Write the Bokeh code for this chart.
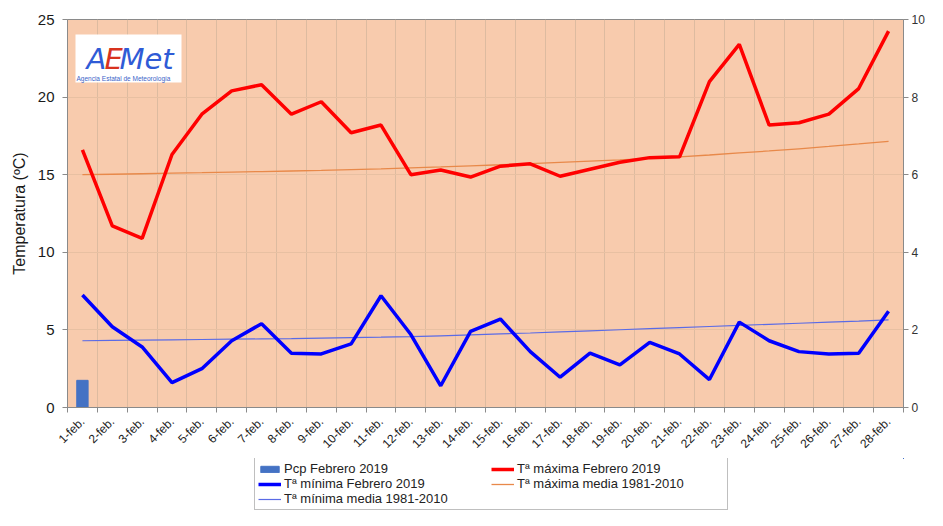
import math
from bokeh.plotting import figure
from bokeh.layouts import column
from bokeh.models import (Range1d, LinearAxis, FixedTicker, Legend, LegendItem,
                          Label, BoxAnnotation)
from bokeh.embed import file_html
from bokeh.resources import INLINE

# ---------------- data ----------------
days = list(range(1, 29))
day_labels = [f"{d}-feb." for d in days]

pcp = [0.7] + [0.0] * 27

tmax = [16.6, 11.7, 10.9, 16.3, 18.9, 20.4, 20.8, 18.9, 19.7, 17.7,
        18.2, 15.0, 15.3, 14.85, 15.55, 15.7, 14.9, 15.35, 15.8, 16.1,
        16.15, 21.0, 23.4, 18.2, 18.35, 18.9, 20.55, 24.25]

tmin = [7.25, 5.2, 3.9, 1.6, 2.5, 4.3, 5.4, 3.5, 3.45, 4.1,
        7.2, 4.7, 1.4, 4.9, 5.7, 3.6, 1.95, 3.5, 2.75, 4.2,
        3.45, 1.8, 5.5, 4.3, 3.6, 3.45, 3.5, 6.2]

tmax_media = [15.0, 15.03, 15.06, 15.1, 15.13, 15.17, 15.2, 15.24, 15.28, 15.33,
              15.38, 15.44, 15.5, 15.57, 15.64, 15.72, 15.8, 15.88, 15.96, 16.05,
              16.15, 16.27, 16.4, 16.53, 16.67, 16.82, 16.98, 17.15]

tmin_media = [4.3, 4.32, 4.34, 4.36, 4.38, 4.4, 4.42, 4.44, 4.47, 4.5,
              4.53, 4.57, 4.62, 4.68, 4.74, 4.8, 4.87, 4.94, 5.01, 5.08,
              5.15, 5.22, 5.29, 5.36, 5.43, 5.5, 5.57, 5.65]

temp_ticks = [0, 5, 10, 15, 20, 25]
pcp_ticks = [0, 2, 4, 6, 8, 10]

series_names = ["Pcp Febrero 2019", "Tª mínima Febrero 2019", "Tª mínima media 1981-2010",
                "Tª máxima Febrero 2019", "Tª máxima media 1981-2010"]

FONT = "Liberation Sans"
TXT = "#1a1a1a"
AXC = "#8a8a8a"
C_PCP, C_TMIN, C_TMINM, C_TMAX, C_TMAXM = "#4472C4", "#0000FF", "#5A6BE6", "#FF0000", "#E8894A"

# ---------------- main figure ----------------
P_H = 458
TOP, BOTTOM = 19, 48
FRAME_H = P_H - TOP - BOTTOM

p = figure(width=927, height=P_H, output_backend="svg", toolbar_location=None,
           x_range=Range1d(days[0] - 0.5, days[-1] + 0.5),
           y_range=Range1d(temp_ticks[0], temp_ticks[-1]),
           min_border_left=67, min_border_right=21, min_border_top=TOP,
           min_border_bottom=BOTTOM)
p.background_fill_color = "#F8CBAD"
p.border_fill_color = "white"
p.outline_line_color = AXC
p.outline_line_width = 1

p.extra_y_ranges = {"pcp": Range1d(pcp_ticks[0], pcp_ticks[-1])}

# grids
p.xgrid.ticker = FixedTicker(ticks=[d + 0.5 for d in days[:-1]])
p.xgrid.grid_line_color = "#DDBBA0"
p.xgrid.grid_line_width = 1
p.ygrid.ticker = FixedTicker(ticks=temp_ticks[1:-1])
p.ygrid.grid_line_color = "#E8C0A2"
p.ygrid.grid_line_width = 1

# x axis
xa = p.xaxis[0]
xa.ticker = FixedTicker(ticks=days, minor_ticks=[d - 0.5 for d in days] + [days[-1] + 0.5])
xa.major_label_overrides = {d: lab for d, lab in zip(days, day_labels)}
xa.major_tick_out = 0
xa.major_tick_in = 0
xa.minor_tick_out = 5
xa.minor_tick_in = 0
xa.minor_tick_line_color = AXC
xa.axis_line_color = AXC
xa.major_label_orientation = math.pi / 4
xa.major_label_text_font = FONT
xa.major_label_text_font_size = "12px"
xa.major_label_text_color = TXT
xa.major_label_standoff = 7

# left y axis
ya = p.yaxis[0]
ya.ticker = FixedTicker(ticks=temp_ticks)
ya.major_tick_out = 5
ya.major_tick_in = 0
ya.minor_tick_out = 0
ya.minor_tick_in = 0
ya.major_tick_line_color = AXC
ya.axis_line_color = AXC
ya.major_label_text_font = FONT
ya.major_label_text_font_size = "15px"
ya.major_label_text_color = TXT
ya.major_label_standoff = 8
ya.axis_label = "Temperatura (ºC)"
ya.axis_label_text_font = FONT
ya.axis_label_text_font_size = "16px"
ya.axis_label_text_font_style = "normal"
ya.axis_label_text_color = TXT
ya.axis_label_standoff = 7

# right y axis (precipitation)
ra = LinearAxis(y_range_name="pcp", ticker=FixedTicker(ticks=pcp_ticks))
ra.major_tick_out = 5
ra.major_tick_in = 0
ra.minor_tick_out = 0
ra.minor_tick_in = 0
ra.major_tick_line_color = AXC
ra.axis_line_color = AXC
ra.major_label_text_font = FONT
ra.major_label_text_font_size = "12px"
ra.major_label_text_color = "#333333"
ra.major_label_standoff = 3
p.add_layout(ra, "right")

# ---------------- glyphs ----------------
p.vbar(x=days, top=pcp, width=0.38, y_range_name="pcp",
       fill_color=C_PCP, line_color=C_PCP)
p.line(days, tmin_media, line_color=C_TMINM, line_width=1.2)
p.line(days, tmax_media, line_color=C_TMAXM, line_width=1.3)
p.line(days, tmin, line_color=C_TMIN, line_width=3.5)
p.line(days, tmax, line_color=C_TMAX, line_width=3.5)

# ---------------- logo ----------------
logo_box = BoxAnnotation(left=8, right=114, bottom=FRAME_H - 66, top=FRAME_H - 18,
                         left_units="screen", right_units="screen",
                         bottom_units="screen", top_units="screen",
                         fill_color="white", fill_alpha=1, line_color=None)
p.add_layout(logo_box)
for txt, xx, col in [("A", 19, "#2F5BD6"), ("E", 37, "#D8321E"), ("Met", 52, "#2F5BD6")]:
    p.add_layout(Label(x=xx, y=FRAME_H - 42, x_units="screen", y_units="screen", text=txt,
                       text_font="DejaVu Sans", text_font_style="italic",
                       text_font_size="29px", text_color=col,
                       text_baseline="alphabetic"))
p.add_layout(Label(x=9, y=FRAME_H - 62, x_units="screen", y_units="screen",
                   text="Agencia Estatal de Meteorología", text_font=FONT,
                   text_font_size="6.5px", text_color="#3C64C8",
                   text_baseline="alphabetic"))

# ---------------- legend strip ----------------
lg = figure(width=927, height=52, output_backend="svg", toolbar_location=None,
            x_range=Range1d(-2, -1), y_range=Range1d(-2, -1),
            x_axis_type=None, y_axis_type=None,
            min_border_left=0, min_border_right=0, min_border_top=0, min_border_bottom=0)
lg.outline_line_color = None
lg.background_fill_color = "white"
lg.border_fill_color = "white"
lg.xgrid.visible = False
lg.ygrid.visible = False
# legend proxies: same series, drawn outside the (empty) view of this strip
l_pcp = lg.vbar(x=days, top=pcp, width=0.38, fill_color=C_PCP, line_color=C_PCP)
l_tmin = lg.line(days, tmin, line_color=C_TMIN, line_width=3.5)
l_tminm = lg.line(days, tmin_media, line_color=C_TMINM, line_width=1.2)
l_tmax = lg.line(days, tmax, line_color=C_TMAX, line_width=3.5)
l_tmaxm = lg.line(days, tmax_media, line_color=C_TMAXM, line_width=1.3)

legend = Legend(items=[LegendItem(label=n, renderers=[r]) for n, r in
                       zip(series_names, [l_pcp, l_tmin, l_tminm, l_tmax, l_tmaxm])],
                ncols=2, location=(187, 0))
legend.margin = 0
legend.padding = 3
legend.spacing = 0
legend.glyph_width = 23
legend.glyph_height = 8
legend.label_standoff = 3
legend.label_height = 15
legend.label_width = 207
legend.label_text_font = FONT
legend.label_text_font_size = "13px"
legend.label_text_color = "#222222"
legend.border_line_color = "#7f7f7f"
legend.border_line_width = 1
legend.background_fill_color = "white"
legend.background_fill_alpha = 1
lg.add_layout(legend, "center")

layout = column(p, lg, spacing=0)
open("out.html", "w").write(file_html(layout, INLINE))
